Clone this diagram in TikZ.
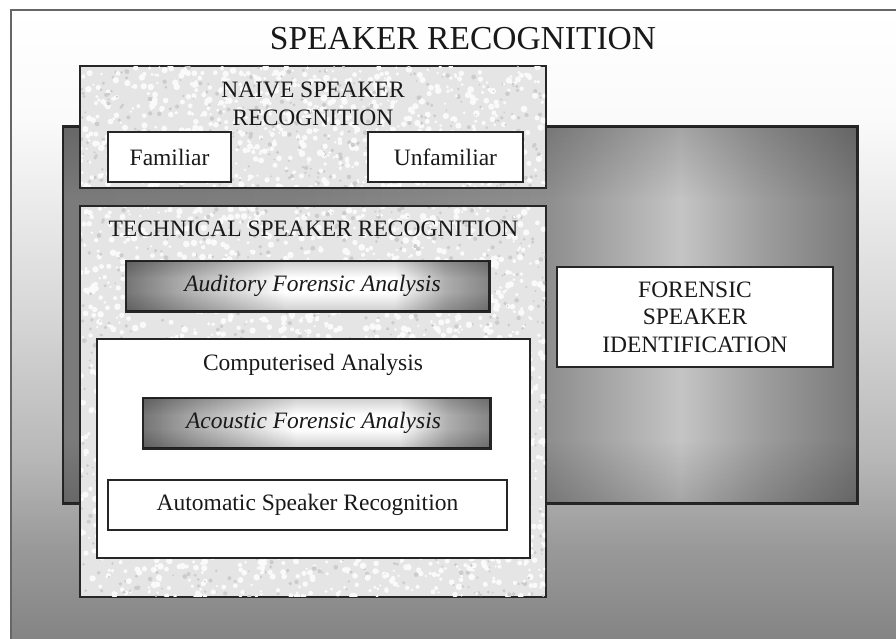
\documentclass[tikz,border=0pt]{standalone}
\usepackage{fontspec}
\setmainfont{Liberation Serif}

% grey levels of the page background (top to bottom)
\definecolor{bgA}{gray}{0.98}
\definecolor{bgB}{gray}{0.85}
\definecolor{bgC}{gray}{0.72}
\definecolor{bgD}{gray}{0.60}
\definecolor{bgE}{gray}{0.50}
% forensic panel, left to right
\definecolor{fsA}{gray}{0.48}
\definecolor{fsB}{gray}{0.50}
\definecolor{fsC}{gray}{0.56}
\definecolor{fsD}{gray}{0.77}
\definecolor{fsE}{gray}{0.62}
\definecolor{fsF}{gray}{0.47}
\definecolor{fvA}{gray}{0.84}
% glowing analysis bars
\definecolor{glA}{gray}{0.46}
\definecolor{glB}{gray}{0.68}
\definecolor{glC}{gray}{0.52}
\definecolor{gvA}{gray}{0.80}
% stone texture
\definecolor{stoneBase}{gray}{0.90}
\definecolor{stoneDark}{gray}{0.80}
\definecolor{stoneLight}{gray}{0.98}
\definecolor{inkline}{gray}{0.15}
\definecolor{inktext}{gray}{0.10}

\pgfdeclareverticalshading{pagebg}{100bp}{color(0bp)=(bgE); color(25bp)=(bgE);
  color(33.6bp)=(bgD); color(40.6bp)=(bgC); color(52.3bp)=(bgB);
  color(66.4bp)=(bgA); color(75bp)=(white); color(100bp)=(white)}
\pgfdeclarehorizontalshading{fsish}{100bp}{color(0bp)=(fsA); color(25bp)=(fsA);
  color(39.9bp)=(fsB); color(55.7bp)=(fsC); color(63.9bp)=(fsD);
  color(68.9bp)=(fsE); color(75bp)=(fsF); color(100bp)=(fsF)}
\pgfdeclareverticalshading{fsiv}{100bp}{color(0bp)=(fvA); color(25bp)=(fvA);
  color(33.4bp)=(white); color(65.3bp)=(white); color(75bp)=(fvA); color(100bp)=(fvA)}
\pgfdeclarehorizontalshading{glowh}{100bp}{color(0bp)=(glA); color(25bp)=(glA);
  color(33bp)=(glB); color(47bp)=(white); color(62bp)=(white); color(69bp)=(glB);
  color(75bp)=(glC); color(100bp)=(glC)}
\pgfdeclareverticalshading{glowv}{100bp}{color(0bp)=(gvA); color(25bp)=(gvA);
  color(44bp)=(white); color(58bp)=(white); color(75bp)=(gvA); color(100bp)=(gvA)}

% speckled stone fill inside a rectangle: x0, y0, width, height, dots
\newcommand\stonegrain[5]{%
  \begin{scope}
    \clip (#1+1,#2+1) rectangle ++(#3-2,#4-2);
    \foreach \k in {1,...,#5}{%
      \pgfmathsetmacro\gx{#1+#3*rnd}%
      \pgfmathsetmacro\gy{#2+#4*rnd}%
      \pgfmathsetmacro\gr{1.2+2.2*rnd}%
      \pgfmathsetmacro\gs{rnd}%
      \ifdim\gs pt<0.68pt
        \fill[stoneLight] (\gx,\gy) circle[radius=\gr pt];
      \else
        \fill[stoneDark] (\gx,\gy) circle[radius=0.7*\gr pt];
      \fi
    }%
  \end{scope}}

\tikzset{
  box/.style={draw=inkline, line width=1.5pt, inner sep=0pt, anchor=center,
    text=inktext, font=\fontsize{23.5}{27.5}\selectfont},
  whitebox/.style={box, fill=white},
  stonebox/.style={box, fill=stoneBase},
  glowbar/.style={box, shading=glowh},
  caption/.style={inner sep=0pt, text=inktext, font=\fontsize{23.5}{27.5}\selectfont},
  italiccaption/.style={caption, font=\fontsize{23.5}{27.5}\selectfont\itshape},
}

\begin{document}
\begin{tikzpicture}[x=1pt, y=-1pt]
  \useasboundingbox (0,0) rectangle (896,639);
  \clip (0,0) rectangle (896,639);
  \pgfmathsetseed{7}

  % page frame
  \draw[draw=black!60, line width=1.5pt, shading=pagebg] (11,10) rectangle (910,660);
  \node[anchor=base, inner sep=0pt, text=inktext, font=\fontsize{33.5}{38}\selectfont]
    (title) at (463,50) {SPEAKER RECOGNITION};

  % forensic speaker identification panel
  \node[box, shading=fsish, minimum width=794pt, minimum height=376pt] (fsiback) at (460,315) {};
  \begin{scope}[blend mode=multiply]
    \shade[shading=fsiv] (fsiback.south west) rectangle (fsiback.north east);
  \end{scope}
  \draw[draw=inkline, line width=1.5pt] (fsiback.south west) rectangle (fsiback.north east);
  \node[whitebox, align=center, minimum width=276pt, minimum height=100pt] (fsid) at (695,317)
    {FORENSIC\\SPEAKER\\IDENTIFICATION};

  % naive speaker recognition
  \node[stonebox, minimum width=466pt, minimum height=122pt] (naive) at (313,127) {};
  \stonegrain{80}{66}{466}{122}{1100}
  \node[caption, align=center] (naivetitle) at (313,104) {NAIVE SPEAKER\\RECOGNITION};
  \node[whitebox, minimum width=123pt, minimum height=50pt] (familiar) at (169.5,157) {Familiar};
  \node[whitebox, minimum width=155pt, minimum height=50pt] (unfamiliar) at (445.5,157) {Unfamiliar};

  % technical speaker recognition
  \node[stonebox, minimum width=466pt, minimum height=391pt] (technical) at (313,401.5) {};
  \stonegrain{80}{206}{466}{391}{3200}
  \node[caption, anchor=base] (techtitle) at (313.5,236) {TECHNICAL SPEAKER RECOGNITION};
  \node[glowbar, minimum width=363pt, minimum height=50pt] (auditory) at (307.5,286) {};
  \begin{scope}[blend mode=multiply]
    \shade[shading=glowv] (auditory.south west) rectangle (auditory.north east);
  \end{scope}
  \draw[draw=inkline, line width=1.5pt] (auditory.south west) rectangle (auditory.north east);
  \node[italiccaption] (auditorytext) at ([xshift=5pt]auditory.center) {Auditory Forensic Analysis};

  % computerised analysis
  \node[whitebox, minimum width=433pt, minimum height=219pt] (computer) at (313.5,448.5) {};
  \node[caption, anchor=base] (computertitle) at (313,370) {Computerised Analysis};
  \node[glowbar, minimum width=347pt, minimum height=50pt] (acoustic) at (316.5,423) {};
  \begin{scope}[blend mode=multiply]
    \shade[shading=glowv] (acoustic.south west) rectangle (acoustic.north east);
  \end{scope}
  \draw[draw=inkline, line width=1.5pt] (acoustic.south west) rectangle (acoustic.north east);
  \node[italiccaption] (acoustictext) at ([xshift=-3pt]acoustic.center) {Acoustic Forensic Analysis};
  \node[whitebox, minimum width=399pt, minimum height=50pt] (automatic) at (307.5,505)
    {Automatic Speaker Recognition};
\end{tikzpicture}
\end{document}
